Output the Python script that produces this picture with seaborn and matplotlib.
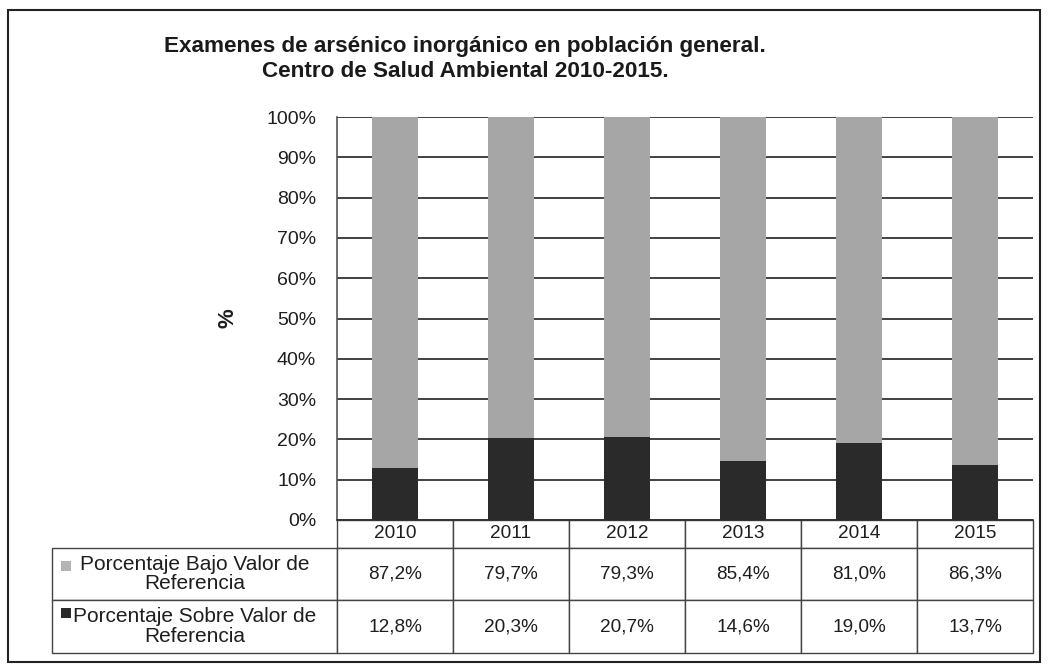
import matplotlib.pyplot as plt
import matplotlib.patches as mpatches
import seaborn as sns
import numpy as np
import pandas as pd

years = ['2010', '2011', '2012', '2013', '2014', '2015']
bajo = [87.2, 79.7, 79.3, 85.4, 81.0, 86.3]
sobre = [12.8, 20.3, 20.7, 14.6, 19.0, 13.7]
row_labels = ['Porcentaje Bajo Valor de\nReferencia', 'Porcentaje Sobre Valor de\nReferencia']
yticks = [0, 10, 20, 30, 40, 50, 60, 70, 80, 90, 100]

light = '#a6a6a6'
dark = '#2a2a2a'

df = pd.DataFrame({'year': years, 'bajo': bajo, 'sobre': sobre})
df['total'] = df['bajo'] + df['sobre']

sns.set_style('white')
plt.rcParams['font.family'] = ['Liberation Sans', 'DejaVu Sans']

fig = plt.figure(figsize=(10.49, 6.67), dpi=100)
ax = fig.add_axes([337 / 1049, 1 - 520 / 667, 696 / 1049, 403 / 667])

# stacked bars: total in light gray, lower part in dark
sns.barplot(data=df, x='year', y='total', color=light, width=0.39, ax=ax,
            saturation=1, zorder=3, linewidth=0)
sns.barplot(data=df, x='year', y='sobre', color=dark, width=0.39, ax=ax,
            saturation=1, zorder=4, linewidth=0)

ax.set_ylim(0, 100)
ax.set_xlim(-0.5, 5.5)
ax.set_yticks(yticks)
ax.set_yticklabels([f'{t}%' for t in yticks], fontsize=14, color='#1e1e1e')
ax.tick_params(axis='y', length=0, pad=15)
ax.set_xticks([])
ax.set_xlabel('')
ax.set_ylabel('%', fontsize=16, fontweight='bold', rotation=90, labelpad=20,
              color='#1e1e1e')
ax.yaxis.grid(True, color='#333333', linewidth=1.3, zorder=1)
ax.set_axisbelow(True)
for s in ['top', 'right']:
    ax.spines[s].set_visible(False)
ax.spines['left'].set_color('#555555')
ax.spines['bottom'].set_color('#333333')
ax.spines['left'].set_linewidth(1.2)
ax.spines['bottom'].set_linewidth(1.2)

# data table under the chart
fmt = lambda v: f'{v:.1f}'.replace('.', ',') + '%'
cell_text = [[''] + years,
             [row_labels[0]] + [fmt(v) for v in bajo],
             [row_labels[1]] + [fmt(v) for v in sobre]]
lab_w = 285 / 696
col_w = 116 / 696
tab = ax.table(cellText=cell_text, colWidths=[lab_w] + [col_w] * 6,
               cellLoc='center',
               bbox=[(52 - 337) / 696, (520 - 653) / 403, 981 / 696, 133 / 403])
tab.auto_set_font_size(False)
heights = [28, 52, 53]
for (r, c), cell in tab.get_celld().items():
    cell.set_height(heights[r] / 403)
    cell.set_edgecolor('#444444')
    cell.set_linewidth(1.0)
    cell.get_text().set_fontsize(15 if c == 0 else 13.7)
    cell.get_text().set_color('#1e1e1e')
    cell.get_text().set_linespacing(1.05)
    if r == 0 and c == 0:
        cell.visible_edges = ''

# legend squares in the row label cells
for y_top, col in [(561, '#b4b4b4'), (608, dark)]:
    fig.patches.append(mpatches.Rectangle((61 / 1049, 1 - (y_top + 10) / 667),
                                          10 / 1049, 10 / 667,
                                          transform=fig.transFigure,
                                          facecolor=col, edgecolor='none'))

fig.text(465 / 1049, 1 - 59 / 667,
         'Examenes de arsénico inorgánico en población general.\nCentro de Salud Ambiental 2010-2015.',
         ha='center', va='center', fontsize=16.2, fontweight='bold',
         color='#1a1a1a', linespacing=1.3)

fig.patches.append(mpatches.Rectangle((8 / 1049, 1 - 662 / 667), 1032 / 1049, 652 / 667,
                                      transform=fig.transFigure, fill=False,
                                      edgecolor='#222222', linewidth=1.5))

fig.savefig('out.png', dpi=100)
